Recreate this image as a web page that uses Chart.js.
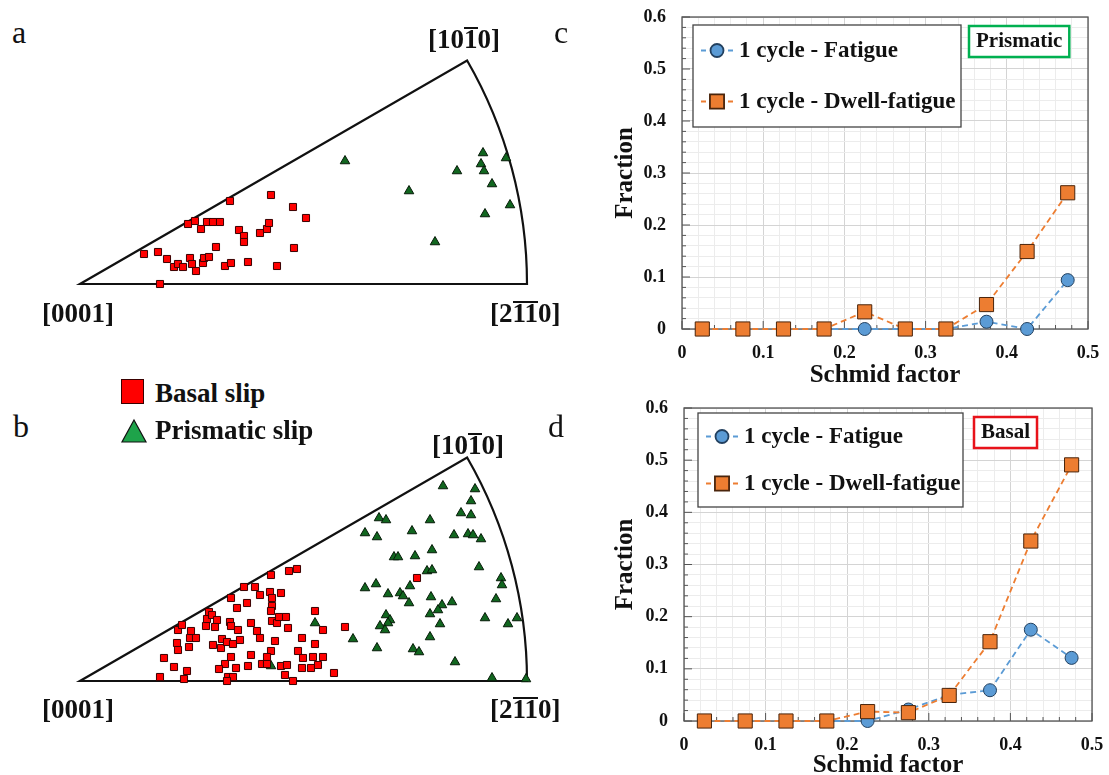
<!DOCTYPE html>
<html>
<head>
<meta charset="utf-8">
<script src="https://cdn.jsdelivr.net/npm/chart.js@4.4.0/dist/chart.umd.min.js"></script>
<style>
  html, body { margin: 0; padding: 0; background: #fff; }
  body { width: 1109px; height: 775px; position: relative; overflow: hidden; font-family: "Liberation Serif", "Times New Roman", serif; }
  canvas { position: absolute; }
  .lbl { position: absolute; white-space: nowrap; line-height: 1; color: #111; }
  .pole { font-weight: bold; font-size: 27px; }
  .ob { display: inline-block; border-top: 2px solid #111; line-height: 0.78; }
  .panel { font-size: 32px; }
  .key { font-weight: bold; font-size: 27px; }
  .sq { position: absolute; width: 21px; height: 23px; background: #ff0000; border: 1px solid #3a0000; }
</style>
</head>
<body>
<canvas id="ipfA" width="527" height="290" style="left:40px;top:14px"></canvas>
<canvas id="ipfB" width="527" height="290" style="left:40px;top:411px"></canvas>
<canvas id="fracC" width="509" height="400" style="left:600px;top:0px"></canvas>
<canvas id="fracD" width="509" height="400" style="left:600px;top:390px"></canvas>

<div class="lbl panel" style="left:12px;top:16px">a</div>
<div class="lbl panel" style="left:554px;top:16px">c</div>
<div class="lbl panel" style="left:13px;top:410px">b</div>
<div class="lbl panel" style="left:548px;top:410px">d</div>

<div class="lbl pole" style="left:428px;top:26px">[10<span class="ob">1</span>0]</div>
<div class="lbl pole" style="left:42px;top:300px">[0001]</div>
<div class="lbl pole" style="left:490px;top:300px">[2<span class="ob">11</span>0]</div>
<div class="lbl pole" style="left:432px;top:432px">[10<span class="ob">1</span>0]</div>
<div class="lbl pole" style="left:42px;top:696px">[0001]</div>
<div class="lbl pole" style="left:490px;top:696px">[2<span class="ob">11</span>0]</div>

<div class="sq" style="left:121px;top:379px"></div>
<div class="lbl key" style="left:155px;top:380px">Basal slip</div>
<svg style="position:absolute;left:120px;top:418px" width="28" height="26"><polygon points="14,2 26,24 2,24" fill="#1ea34a" stroke="#111" stroke-width="1.2"/></svg>
<div class="lbl key" style="left:155px;top:417px">Prismatic slip</div>

<script>
// ---------- IPF data: stereographic projection, [0001] at origin, [2-1-10] at 447 ----------
const ipfRadius = 447;

const basalA = [
  [64,30],[78,32],[87,25],[94,17],[98,20],[103,17],[110,26],[112,20],[116,13],[123,21],
  [124,26],[129,27],[136,37],[145,18],[151,21],[168,22],[197,18],[214,36],[80,0],[108,60],
  [115,63],[121,55],[127,62],[133,62],[140,62],[150,83],[159,54],[164,48],[164,42],[180,51],
  [187,55],[189,61],[191,89],[213,77],[226,66]
];
const prismaticA = [
  [265,123],[329,93],[355,42],[377,113],[403,131],[401,120],[404,113],[412,100],[426,126],
  [430,79],[405,70]
];

const basalB = [
  [80,4],[84,23],[94,14],[104,2],[107,10],[98,51],[102,56],[97,38],[98,31],[109,34],
  [110,43],[116,43],[111,50],[126,55],[127,62],[129,69],[132,66],[137,61],[135,54],[133,36],
  [141,33],[142,42],[147,39],[150,59],[151,55],[151,83],[157,73],[158,51],[153,37],[160,41],
  [151,24],[145,17],[139,12],[156,13],[148,4],[153,4],[147,0],[164,94],[167,78],[175,94],
  [180,86],[171,58],[177,50],[180,43],[171,26],[168,15],[191,106],[190,89],[192,83],[192,75],
  [191,70],[201,88],[192,60],[197,58],[199,64],[206,64],[208,53],[195,40],[191,30],[187,24],
  [182,17],[187,17],[201,15],[207,16],[205,6],[213,0],[209,110],[217,112],[222,43],[218,30],
  [223,23],[222,13],[231,13],[233,24],[238,16],[243,24],[235,37],[235,70],[243,51],[254,8],
  [265,54],[337,103]
];
const prismaticB = [
  [363,195],[395,192],[391,180],[381,168],[391,166],[350,161],[299,163],[306,161],[285,148],
  [297,144],[332,150],[374,146],[388,147],[393,146],[401,142],[352,131],[314,124],[318,124],
  [335,125],[399,114],[347,110],[352,111],[421,103],[422,96],[285,93],[296,97],[308,87],
  [330,95],[320,88],[323,85],[329,78],[351,84],[372,79],[362,76],[358,71],[350,67],[416,82],
  [306,66],[310,61],[308,58],[300,55],[305,51],[360,57],[405,63],[428,57],[437,63],[273,42],
  [235,58],[350,44],[297,33],[333,32],[339,29],[375,19],[412,3],[446,2],[191,15]
];

// ---------- Schmid factor distributions ----------
const schmid = [0.025, 0.075, 0.125, 0.175, 0.225, 0.275, 0.325, 0.375, 0.425, 0.475];
const prismaticFatigue = [0, 0, 0, 0, 0, 0, 0, 0.014, 0, 0.094];
const prismaticDwell   = [0, 0, 0, 0, 0.033, 0, 0, 0.047, 0.149, 0.262];
const basalFatigue     = [0, 0, 0, 0, 0, 0.022, 0.05, 0.059, 0.175, 0.121];
const basalDwell       = [0, 0, 0, 0, 0.018, 0.016, 0.049, 0.152, 0.345, 0.491];
const seriesNames = ['1 cycle - Fatigue', '1 cycle - Dwell-fatigue'];

const BLUE = '#5b9bd5', ORANGE = '#ed7d31';
const SERIF = '"Liberation Serif", "Times New Roman", serif';

// sector outline of the hexagonal standard triangle
const sectorOutline = {
  id: 'sectorOutline',
  beforeDatasetsDraw(chart) {
    const { ctx, scales: { x, y } } = chart;
    const ox = x.getPixelForValue(0), oy = y.getPixelForValue(0);
    const r = x.getPixelForValue(ipfRadius) - ox;
    ctx.save();
    ctx.beginPath();
    ctx.moveTo(ox, oy);
    ctx.lineTo(ox + r, oy);
    ctx.arc(ox, oy, r, 0, -Math.PI / 6, true);
    ctx.closePath();
    ctx.lineWidth = 2.2;
    ctx.strokeStyle = '#111';
    ctx.stroke();
    ctx.restore();
  }
};

function ipfChart(id, basal, prismatic) {
  const pts = arr => arr.map(p => ({ x: p[0], y: p[1] }));
  return new Chart(document.getElementById(id), {
    type: 'scatter',
    data: {
      datasets: [
        { label: 'Basal slip', data: pts(basal), pointStyle: 'rect', pointRadius: 5,
          backgroundColor: '#ff0000', borderColor: '#3a0000', borderWidth: 1, clip: false },
        { label: 'Prismatic slip', data: pts(prismatic), pointStyle: 'triangle', pointRadius: 5.5,
          backgroundColor: '#11661f', borderColor: '#061a08', borderWidth: 1, clip: false }
      ]
    },
    options: {
      responsive: false,
      devicePixelRatio: 1,
      animation: false,
      layout: { padding: { left: 40, right: 40, top: 20, bottom: 20 } },
      scales: {
        x: { type: 'linear', min: 0, max: ipfRadius, display: false },
        y: { type: 'linear', min: 0, max: 250, display: false }
      },
      plugins: { legend: { display: false }, tooltip: { enabled: false } }
    },
    plugins: [sectorOutline]
  });
}

ipfChart('ipfA', basalA, prismaticA);
ipfChart('ipfB', basalB, prismaticB);

// ---------- fraction vs Schmid factor ----------
const isMajor = v => Math.abs(v * 10 - Math.round(v * 10)) < 1e-6;

function drawMarker(ctx, ds, x, y) {
  Chart.helpers.drawPoint(ctx, {
    pointStyle: ds.pointStyle, radius: ds.pointRadius, borderWidth: ds.pointBorderWidth
  }, x, y);
}

function fractionChart(id, fatigue, dwell, tag, geo) {
  const frame = {
    id: 'frame',
    beforeDatasetsDraw(chart) {
      const { ctx, chartArea: a, scales: { x, y } } = chart;
      ctx.save();
      ctx.strokeStyle = '#555';
      ctx.lineWidth = 1.3;
      ctx.strokeRect(a.left, a.top, a.width, a.height);
      ctx.lineWidth = 1;
      ctx.beginPath();
      x.ticks.forEach(t => {
        const px = x.getPixelForValue(t.value), L = isMajor(t.value) ? 8 : 4;
        ctx.moveTo(px, a.bottom); ctx.lineTo(px, a.bottom - L);
      });
      y.ticks.forEach(t => {
        const py = y.getPixelForValue(t.value), L = isMajor(t.value) ? 8 : 4;
        ctx.moveTo(a.left, py); ctx.lineTo(a.left + L, py);
      });
      ctx.stroke();
      ctx.restore();
    }
  };

  const boxLegend = {
    id: 'boxLegend',
    afterDatasetsDraw(chart) {
      const { ctx, chartArea: a } = chart;
      const bx = a.left + geo.legLeft, by = a.top + geo.legTop;
      ctx.save();
      ctx.fillStyle = '#fff';
      ctx.fillRect(bx, by, geo.legW, geo.legH);
      ctx.strokeStyle = '#444';
      ctx.lineWidth = 1.3;
      ctx.strokeRect(bx, by, geo.legW, geo.legH);
      chart.data.datasets.forEach((ds, i) => {
        const cy = by + geo.legH * (i === 0 ? 0.25 : 0.75);
        ctx.strokeStyle = ds.borderColor;
        ctx.lineWidth = ds.borderWidth;
        ctx.setLineDash([5, 4]);
        ctx.beginPath();
        ctx.moveTo(bx + 8, cy); ctx.lineTo(bx + 44, cy);
        ctx.stroke();
        ctx.setLineDash([]);
        ctx.fillStyle = ds.pointBackgroundColor;
        ctx.strokeStyle = ds.pointBorderColor;
        drawMarker(ctx, ds, bx + 24, cy);
        ctx.fillStyle = '#111';
        ctx.font = 'bold 23px ' + SERIF;
        ctx.textBaseline = 'middle';
        ctx.textAlign = 'left';
        ctx.fillText(ds.label, bx + 46, cy + 1);
      });
      // slip system tag
      ctx.font = 'bold 21px ' + SERIF;
      const tw = ctx.measureText(tag.text).width;
      const tx = a.left + geo.tagLeft, ty = a.top + geo.tagTop;
      ctx.fillStyle = '#fff';
      ctx.fillRect(tx, ty, tw + 14, 31);
      ctx.strokeStyle = tag.color;
      ctx.lineWidth = 2.5;
      ctx.strokeRect(tx, ty, tw + 14, 31);
      ctx.fillStyle = '#111';
      ctx.fillText(tag.text, tx + 7, ty + 16);
      ctx.restore();
    }
  };

  const series = (vals) => schmid.map((s, i) => ({ x: s, y: vals[i] }));
  const tickFont = { family: SERIF, size: 18, weight: 'bold' };
  const titleFont = { family: SERIF, size: 25, weight: 'bold' };
  const gridColor = c => isMajor(c.tick.value) ? '#d4d4d4' : '#ececec';
  const label = v => isMajor(v) ? String(Math.round(v * 10) / 10) : '';

  return new Chart(document.getElementById(id), {
    type: 'line',
    data: {
      datasets: [
        { label: seriesNames[0], data: series(fatigue), order: 1, clip: false,
          borderColor: BLUE, borderWidth: 1.8, borderDash: [6, 4],
          pointStyle: 'circle', pointRadius: 6.5, pointBorderWidth: 1,
          pointBackgroundColor: BLUE, pointBorderColor: '#22405f' },
        { label: seriesNames[1], data: series(dwell), order: 0, clip: false,
          borderColor: ORANGE, borderWidth: 1.8, borderDash: [6, 4],
          pointStyle: 'rect', pointRadius: 10, pointBorderWidth: 1,
          pointBackgroundColor: ORANGE, pointBorderColor: '#4a250c' }
      ]
    },
    options: {
      responsive: false,
      devicePixelRatio: 1,
      animation: false,
      layout: { padding: { top: geo.padTop, right: geo.padRight, left: 0, bottom: 0 } },
      scales: {
        x: {
          type: 'linear', min: 0, max: 0.5,
          afterFit: s => { s.height = geo.xAxisH; s.paddingLeft = 0; s.paddingRight = 0; },
          ticks: { stepSize: 0.02, autoSkip: false, maxRotation: 0, padding: 14,
                   color: '#111', font: tickFont, callback: label },
          grid: { color: gridColor, drawTicks: false },
          border: { display: false },
          title: { display: true, text: 'Schmid factor', color: '#111', font: titleFont,
                   padding: { top: 0, bottom: 9 } }
        },
        y: {
          min: 0, max: 0.6,
          afterFit: s => { s.width = geo.yAxisW; s.paddingTop = 0; s.paddingBottom = 0; },
          ticks: { stepSize: 0.02, autoSkip: false, padding: 16,
                   color: '#111', font: tickFont, callback: label },
          grid: { color: gridColor, drawTicks: false },
          border: { display: false },
          title: { display: true, text: 'Fraction', color: '#111', font: titleFont,
                   padding: { top: 11, bottom: 0 } }
        }
      },
      plugins: { legend: { display: false }, tooltip: { enabled: false } }
    },
    plugins: [frame, boxLegend]
  });
}

fractionChart('fracC', prismaticFatigue, prismaticDwell,
  { text: 'Prismatic', color: '#00b050' },
  { padTop: 17, padRight: 21, xAxisH: 71, yAxisW: 82,
    legLeft: 11, legTop: 8, legW: 268, legH: 102, tagLeft: 287, tagTop: 9 });

fractionChart('fracD', basalFatigue, basalDwell,
  { text: 'Basal', color: '#e8121a' },
  { padTop: 18, padRight: 17, xAxisH: 69, yAxisW: 84,
    legLeft: 14, legTop: 5, legW: 265, legH: 94, tagLeft: 290, tagTop: 9 });
</script>
</body>
</html>
